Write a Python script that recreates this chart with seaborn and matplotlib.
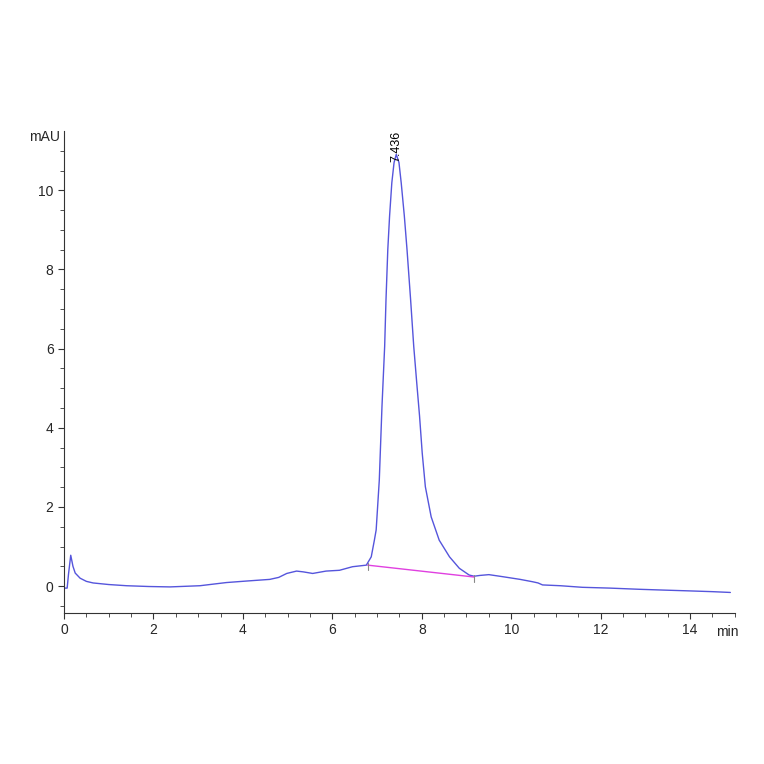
import pandas as pd
import matplotlib.pyplot as plt
import seaborn as sns

# chromatogram points (time in min, signal in mAU)
time_min = [0.0, 0.07, 0.1, 0.15, 0.2, 0.25, 0.36, 0.5, 0.65, 1.0, 1.4, 1.9, 2.37,
            3.04, 3.63, 4.1, 4.6, 4.8, 4.98, 5.2, 5.35, 5.56, 5.86, 6.16, 6.45,
            6.76, 6.87, 6.94, 6.98, 7.05, 7.11, 7.17, 7.2, 7.24, 7.28, 7.33,
            7.38, 7.43, 7.49, 7.54, 7.61, 7.67, 7.75, 7.82, 7.89, 7.95, 8.01,
            8.08, 8.21, 8.39, 8.62, 8.84, 9.06, 9.17, 9.3, 9.5, 9.8, 10.2,
            10.48, 10.6, 10.7, 11.1, 11.59, 12.2, 12.86, 13.4, 13.97, 14.5, 14.9]
signal_mau = [-0.05, -0.05, 0.3, 0.78, 0.5, 0.33, 0.2, 0.12, 0.08, 0.04, 0.01,
              -0.01, -0.02, 0.01, 0.09, 0.13, 0.17, 0.22, 0.32, 0.38, 0.36, 0.32,
              0.38, 0.4, 0.49, 0.53, 0.74, 1.16, 1.42, 2.68, 4.54, 6.06, 7.24,
              8.5, 9.35, 10.19, 10.7, 10.91, 10.7, 10.19, 9.35, 8.5, 7.24, 6.06,
              5.1, 4.3, 3.36, 2.51, 1.75, 1.16, 0.74, 0.45, 0.28, 0.25, 0.27,
              0.29, 0.24, 0.17, 0.11, 0.08, 0.03, 0.01, -0.03, -0.05, -0.08,
              -0.1, -0.12, -0.14, -0.16]

# integration baseline under the main peak
base_t = [6.79, 9.17]
base_v = [0.53, 0.23]

peak_t = 7.436
peak_label = "7.436"

df = pd.DataFrame({"t": time_min, "v": signal_mau})
df_base = pd.DataFrame({"t": base_t, "v": base_v})

sns.set_style("ticks")
plt.rcParams["font.family"] = ["Liberation Sans", "DejaVu Sans"]

fig = plt.figure(figsize=(7.64, 7.64), dpi=100)
ax = fig.add_axes([0.0838, 0.1976, 0.878, 0.631])

sns.lineplot(data=df, x="t", y="v", ax=ax, color="#5555dc", linewidth=1.0,
             sort=False, estimator=None)
sns.lineplot(data=df_base, x="t", y="v", ax=ax, color="#e040e0", linewidth=1.0,
             estimator=None)

# small marks where integration starts / stops
for bt, bv in zip(base_t, base_v):
    ax.plot([bt, bt], [bv + 0.05, bv - 0.12], color="#888888", linewidth=0.8)

ax.text(peak_t, 10.72, peak_label, rotation=90, ha="center", va="bottom",
        fontsize=9, color="black")

ax.set_xlim(0, 15)
ax.set_ylim(-0.68, 11.5)
ax.set_xticks([0, 2, 4, 6, 8, 10, 12, 14])
ax.set_xticks([i * 0.5 for i in range(31)], minor=True)
ax.set_yticks([0, 2, 4, 6, 8, 10])
ax.set_yticks([-0.5 + i * 0.5 for i in range(24)], minor=True)
ax.set_xlabel("")
ax.set_ylabel("")
sns.despine(ax=ax)
for s in ["left", "bottom"]:
    ax.spines[s].set_color("#333333")
    ax.spines[s].set_linewidth(0.8)
ax.tick_params(which="major", length=4, width=0.8, color="#333333",
               labelsize=10, direction="out")
ax.tick_params(which="minor", length=3, width=0.6, color="#333333",
               direction="out")

fig.text(45 / 764, 1 - 137 / 764, "mAU", ha="center", va="center", fontsize=10)
fig.text(727 / 764, 1 - 632 / 764, "min", ha="center", va="center", fontsize=10)

fig.savefig("out.png", dpi=100)
